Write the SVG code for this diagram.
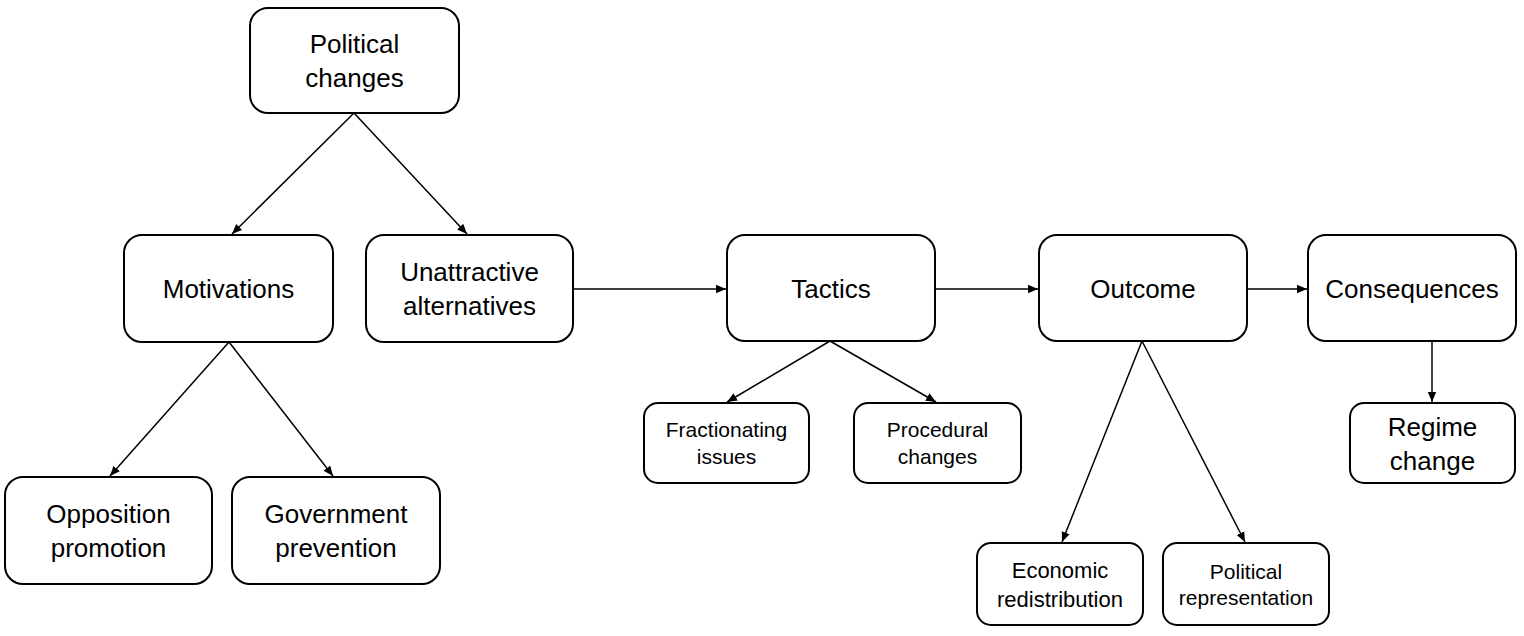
<svg xmlns="http://www.w3.org/2000/svg" width="1524" height="636" viewBox="0 0 1524 636">
<style>
.box{fill:#fff;stroke:#000;stroke-width:2}
.t{font-family:"Liberation Sans",Arial,sans-serif;font-size:26px;fill:#000;text-anchor:middle}
.s{font-size:21px}
.m{font-size:22px}
.c line{stroke:#000;stroke-width:1.5;marker-end:url(#ah)}
</style>
<defs>
<marker id="ah" viewBox="0 0 10 10" refX="10" refY="5" markerWidth="10" markerHeight="10" markerUnits="userSpaceOnUse" orient="auto">
<path d="M0,0.8 L10,5 L0,9.2 Z" fill="#000"/>
</marker>
</defs>
<g id="connectors" class="c">
<line x1="354" y1="113" x2="232" y2="234"/>
<line x1="354" y1="113" x2="467" y2="234"/>
<line x1="229" y1="342" x2="110" y2="476"/>
<line x1="229" y1="342" x2="333" y2="476"/>
<line x1="573" y1="289" x2="726" y2="289"/>
<line x1="830" y1="341" x2="727" y2="402"/>
<line x1="830" y1="341" x2="936" y2="402"/>
<line x1="935" y1="289" x2="1038" y2="289"/>
<line x1="1142" y1="341" x2="1062" y2="542"/>
<line x1="1142" y1="341" x2="1245" y2="542"/>
<line x1="1247" y1="289" x2="1307" y2="289"/>
<line x1="1432" y1="341" x2="1432" y2="402"/>
</g>
<g id="political-changes"><rect class="box" x="250" y="8" width="209" height="105" rx="18"/><text class="t" x="354.5" y="53">Political</text><text class="t" x="354.5" y="87">changes</text></g>
<g id="motivations"><rect class="box" x="124" y="235" width="209" height="107" rx="18"/><text class="t" x="228.5" y="298">Motivations</text></g>
<g id="unattractive-alternatives"><rect class="box" x="366" y="235" width="207" height="107" rx="18"/><text class="t" x="469.5" y="281">Unattractive</text><text class="t" x="469.5" y="315">alternatives</text></g>
<g id="tactics"><rect class="box" x="727" y="235" width="208" height="106" rx="18"/><text class="t" x="831" y="298">Tactics</text></g>
<g id="outcome"><rect class="box" x="1039" y="235" width="208" height="106" rx="18"/><text class="t" x="1143" y="298">Outcome</text></g>
<g id="consequences"><rect class="box" x="1308" y="235" width="208" height="106" rx="18"/><text class="t" x="1412" y="298">Consequences</text></g>
<g id="opposition-promotion"><rect class="box" x="5" y="477" width="207" height="107" rx="18"/><text class="t" x="108.5" y="523">Opposition</text><text class="t" x="108.5" y="557">promotion</text></g>
<g id="government-prevention"><rect class="box" x="232" y="477" width="208" height="107" rx="18"/><text class="t" x="336" y="523">Government</text><text class="t" x="336" y="557">prevention</text></g>
<g id="fractionating-issues"><rect class="box" x="644" y="403" width="165" height="80" rx="14"/><text class="t s" x="726.5" y="437">Fractionating</text><text class="t s" x="726.5" y="464">issues</text></g>
<g id="procedural-changes"><rect class="box" x="854" y="403" width="167" height="80" rx="14"/><text class="t s" x="937.5" y="437">Procedural</text><text class="t s" x="937.5" y="464">changes</text></g>
<g id="economic-redistribution"><rect class="box" x="977" y="543" width="166" height="82" rx="14"/><text class="t m" x="1060" y="578">Economic</text><text class="t m" x="1060" y="607">redistribution</text></g>
<g id="political-representation"><rect class="box" x="1163" y="543" width="166" height="82" rx="14"/><text class="t s" x="1246" y="579">Political</text><text class="t s" x="1246" y="605">representation</text></g>
<g id="regime-change"><rect class="box" x="1350" y="403" width="165" height="80" rx="14"/><text class="t" x="1432.5" y="436">Regime</text><text class="t" x="1432.5" y="470">change</text></g>
</svg>
